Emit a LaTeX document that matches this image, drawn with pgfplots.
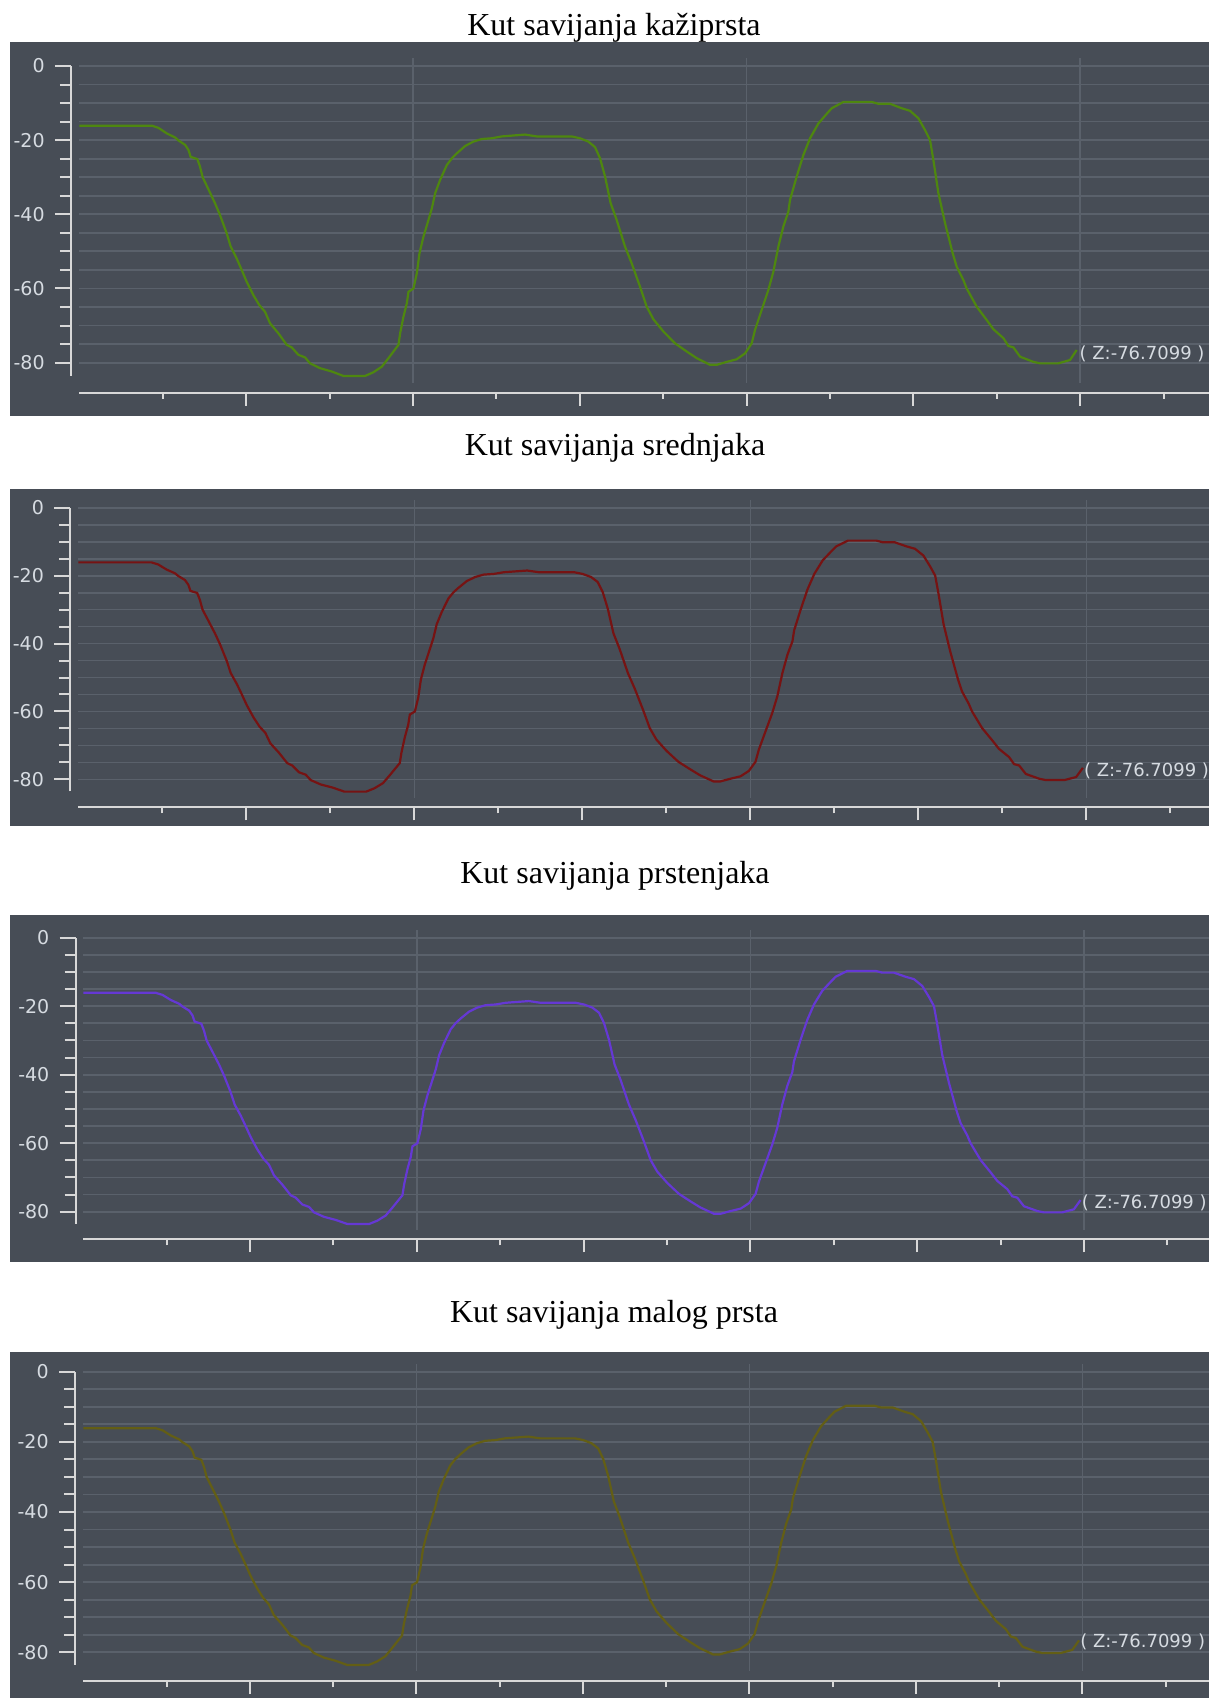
\documentclass[border=0pt]{standalone}
\usepackage{pgfplots}
\pgfplotsset{compat=1.18}
\usepackage{pgfplotstable}
\usepackage{fontspec}
\setmainfont{Liberation Serif}
\newfontfamily\tickfont{DejaVu Sans}
\definecolor{bg}{HTML}{474D56}
\definecolor{gridc}{HTML}{5A616B}
\definecolor{axc}{HTML}{D8D8D8}
\definecolor{labc}{HTML}{D6DBE1}
\definecolor{cgreen}{HTML}{4E870F}
\definecolor{cred}{HTML}{761313}
\definecolor{cpurple}{HTML}{6538D4}
\definecolor{colive}{HTML}{635E15}

\pgfplotstableread{
t v
0.00 -16.1
0.87 -16.1
0.95 -16.7
1.05 -18.2
1.15 -19.3
1.19 -20.1
1.27 -21.3
1.31 -22.7
1.335 -24.5
1.415 -25.1
1.447 -27.1
1.479 -30.0
1.547 -33.2
1.627 -37.0
1.687 -40.2
1.767 -45.1
1.815 -48.7
1.887 -51.9
1.947 -55.0
2.007 -58.2
2.087 -61.8
2.159 -64.5
2.227 -66.3
2.287 -69.4
2.387 -72.1
2.487 -75.2
2.547 -75.9
2.627 -77.9
2.707 -78.6
2.767 -80.2
2.887 -81.5
3.027 -82.4
3.167 -83.6
3.427 -83.6
3.527 -82.6
3.627 -81.1
3.707 -78.8
3.767 -77.0
3.827 -75.2
3.847 -72.1
3.887 -67.6
3.927 -64.0
3.947 -60.9
4.007 -60.0
4.047 -55.9
4.079 -50.5
4.127 -46.0
4.187 -41.5
4.227 -38.4
4.267 -34.3
4.327 -30.7
4.407 -26.7
4.467 -24.9
4.525 -23.6
4.625 -21.6
4.725 -20.4
4.825 -19.7
4.945 -19.5
5.065 -19.0
5.344 -18.5
5.484 -19.0
5.904 -19.0
6.004 -19.5
6.104 -20.4
6.184 -21.9
6.244 -24.9
6.304 -29.8
6.371 -37.0
6.443 -41.5
6.543 -48.7
6.623 -53.2
6.723 -59.5
6.803 -64.9
6.883 -68.3
7.003 -71.6
7.143 -74.8
7.283 -77.0
7.403 -78.8
7.563 -80.6
7.643 -80.6
7.763 -79.8
7.883 -79.1
7.983 -77.5
8.062 -74.8
8.102 -71.2
8.182 -65.8
8.262 -60.4
8.322 -55.5
8.382 -48.7
8.442 -43.3
8.502 -39.3
8.522 -36.1
8.602 -29.8
8.682 -24.0
8.762 -19.5
8.862 -15.5
8.962 -12.9
9.022 -11.4
9.113 -10.3
9.161 -9.7
9.501 -9.7
9.581 -10.2
9.721 -10.2
9.861 -11.4
9.961 -12.1
10.061 -14.1
10.141 -17.3
10.201 -20.0
10.241 -25.4
10.301 -34.3
10.381 -42.4
10.472 -50.5
10.520 -54.1
10.600 -57.7
10.640 -60.0
10.760 -64.9
10.880 -68.5
10.960 -71.0
11.080 -73.4
11.140 -75.5
11.200 -75.9
11.280 -78.4
11.440 -79.8
11.520 -80.2
11.739 -80.2
11.879 -79.3
11.959 -76.6
}\curve

\pgfplotsset{
  panel/.style={
    scale only axis, clip=false,
    xmin=0, xmax=13.6, ymin=-83.5, ymax=0,
    axis x line*=bottom, axis y line*=left,
    axis line style={draw=axc, line width=1pt, -},
    tick align=outside,
    tick style={draw=axc, line width=1pt},
    major tick length=8pt, minor tick length=5.5pt,
    ytick={0,-20,-40,-60,-80},
    yticklabels={0,-20,-40,-60,-80},
    minor ytick={-5,-10,-15,-25,-30,-35,-45,-50,-55,-65,-70,-75},
    ymajorgrids, yminorgrids,
    major grid style={draw=gridc, line width=0.9pt},
    minor grid style={draw=gridc, line width=0.9pt},
    xtick={4,8,12}, xticklabels={}, minor xtick={1,3,5,7,9,11,13},
    extra x ticks={2,6,10}, extra x tick labels={},
    major x tick style={/pgfplots/major tick length=6.5pt},
    minor x tick style={/pgfplots/minor tick length=3pt},
    extra x tick style={/pgfplots/major tick length=5pt, grid=none},
    yticklabel style={font=\tickfont\fontsize{9.5}{11}\selectfont, text=labc, inner sep=0pt, xshift=-5pt},
  },
}
\tikzset{
  zlab/.style={anchor=west, inner sep=0pt, text=labc, font=\tickfont\fontsize{9}{11}\selectfont},
  vgrid/.style={draw=gridc, line width=0.8pt},
  ttl/.style={anchor=base, font=\fontsize{16}{19}\selectfont},
}

\begin{document}
\begin{tikzpicture}
\path[use as bounding box] (0,0) rectangle (604.5pt,849pt);
\clip (0,0) rectangle (604.5pt,849pt);
\fill[white] (0,0) rectangle (604.5pt,849pt);

% ---------- panel 1
\fill[bg] (5pt,641pt) rectangle (610pt,828pt);
\node[ttl] at (307pt,831.25pt) {Kut savijanja kažiprsta};
\begin{axis}[panel, at={(39.65pt,661.2pt)}, anchor=south west,
  width=567.12pt, height=154.8pt, axis y line shift=4.15pt, axis x line shift=8.7pt]
\pgfplotsinvokeforeach{4,8,12}{\draw[vgrid] (axis cs:#1,2.2) -- (axis cs:#1,-85.4);}
\addplot[cgreen, line width=1.1pt] table[x=t,y=v]{\curve};
\node[zlab] at (axis cs:11.99,-77.7) {( Z:-76.7099 )};
\end{axis}

% ---------- panel 2
\fill[bg] (5pt,436pt) rectangle (610pt,604.5pt);
\node[ttl] at (307.5pt,621pt) {Kut savijanja srednjaka};
\begin{axis}[panel, at={(39.15pt,453.35pt)}, anchor=south west,
  width=571.2pt, height=141.8pt, axis y line shift=4pt, axis x line shift=8pt]
\pgfplotsinvokeforeach{4,8,12}{\draw[vgrid] (axis cs:#1,2.2) -- (axis cs:#1,-85.4);}
\addplot[cred, line width=1.1pt] table[x=t,y=v]{\curve};
\node[zlab] at (axis cs:11.97,-77.5) {( Z:-76.7099 )};
\end{axis}

% ---------- panel 3
\fill[bg] (5pt,218pt) rectangle (610pt,391.5pt);
\node[ttl] at (307.5pt,407.25pt) {Kut savijanja prstenjaka};
\begin{axis}[panel, at={(41.65pt,237.15pt)}, anchor=south west,
  width=567.05pt, height=143.0pt, axis y line shift=3.8pt, axis x line shift=7.8pt]
\pgfplotsinvokeforeach{4,8,12}{\draw[vgrid] (axis cs:#1,2.2) -- (axis cs:#1,-85.4);}
\addplot[cpurple, line width=1.1pt] table[x=t,y=v]{\curve};
\node[zlab] at (axis cs:11.97,-77.5) {( Z:-76.7099 )};
\end{axis}

% ---------- panel 4
\fill[bg] (5pt,-5pt) rectangle (610pt,173pt);
\node[ttl] at (307pt,187.75pt) {Kut savijanja malog prsta};
\begin{axis}[panel, at={(41.75pt,16.7pt)}, anchor=south west,
  width=566.05pt, height=146.45pt, axis y line shift=4.25pt, axis x line shift=8.2pt]
\pgfplotsinvokeforeach{4,8,12}{\draw[vgrid] (axis cs:#1,2.2) -- (axis cs:#1,-85.4);}
\addplot[colive, line width=1.1pt] table[x=t,y=v]{\curve};
\node[zlab] at (axis cs:11.97,-77.0) {( Z:-76.7099 )};
\end{axis}
\end{tikzpicture}
\end{document}
